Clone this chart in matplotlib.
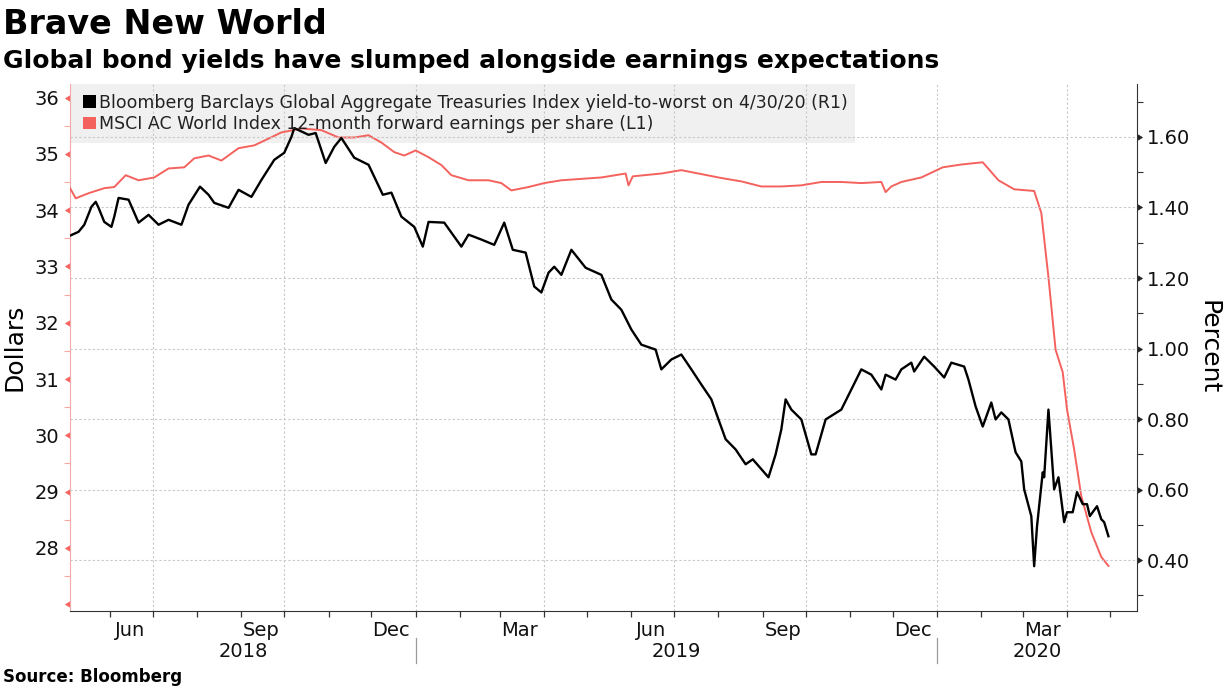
import pandas as pd
import numpy as np
import matplotlib
matplotlib.use("Agg")
import matplotlib.pyplot as plt
import matplotlib.dates as mdates
from matplotlib.ticker import MultipleLocator, FuncFormatter
from matplotlib.patches import Patch, Rectangle

plt.rcParams['font.family'] = ['DejaVu Sans']

# Bloomberg Barclays Global Aggregate Treasuries yield-to-worst (percent, right axis)
yield_dates = [
    "2018-05-04", "2018-05-10", "2018-05-14", "2018-05-19", "2018-05-22", "2018-05-24", "2018-05-28",
    "2018-06-02", "2018-06-04", "2018-06-07", "2018-06-14", "2018-06-21", "2018-06-28",
    "2018-07-05", "2018-07-12", "2018-07-21", "2018-07-26",
    "2018-08-03", "2018-08-09", "2018-08-13", "2018-08-23", "2018-08-30",
    "2018-09-08", "2018-09-15", "2018-09-24",
    "2018-10-01", "2018-10-06", "2018-10-08", "2018-10-18", "2018-10-23", "2018-10-30",
    "2018-11-05", "2018-11-10", "2018-11-19", "2018-11-29",
    "2018-12-03", "2018-12-09", "2018-12-15", "2018-12-22", "2018-12-31",
    "2019-01-06", "2019-01-10", "2019-01-21",
    "2019-02-02", "2019-02-07", "2019-02-16", "2019-02-25",
    "2019-03-04", "2019-03-10", "2019-03-19", "2019-03-25", "2019-03-30",
    "2019-04-04", "2019-04-08", "2019-04-13", "2019-04-20", "2019-04-30",
    "2019-05-11", "2019-05-18", "2019-05-25",
    "2019-06-01", "2019-06-08", "2019-06-18", "2019-06-22", "2019-06-29",
    "2019-07-06", "2019-07-13", "2019-07-20", "2019-07-27",
    "2019-08-01", "2019-08-06", "2019-08-13", "2019-08-20", "2019-08-25", "2019-08-31",
    "2019-09-05", "2019-09-10", "2019-09-14", "2019-09-17", "2019-09-21", "2019-09-28",
    "2019-10-05", "2019-10-08", "2019-10-15", "2019-10-26",
    "2019-11-02", "2019-11-09", "2019-11-16", "2019-11-23", "2019-11-26",
    "2019-12-03", "2019-12-07", "2019-12-14", "2019-12-16", "2019-12-23", "2019-12-30",
    "2020-01-06", "2020-01-11", "2020-01-20", "2020-01-23", "2020-01-28",
    "2020-02-02", "2020-02-08", "2020-02-11", "2020-02-15", "2020-02-20", "2020-02-25", "2020-02-29",
    "2020-03-02", "2020-03-07", "2020-03-09", "2020-03-11", "2020-03-15", "2020-03-16",
    "2020-03-19", "2020-03-23", "2020-03-26", "2020-03-30",
    "2020-04-01", "2020-04-05", "2020-04-08", "2020-04-12", "2020-04-15", "2020-04-17",
    "2020-04-22", "2020-04-25", "2020-04-27", "2020-04-30",
]
yield_values = [
    1.320, 1.331, 1.351, 1.402, 1.416, 1.399, 1.359,
    1.345, 1.374, 1.427, 1.422, 1.357, 1.379,
    1.351, 1.365, 1.351, 1.408,
    1.459, 1.436, 1.413, 1.399, 1.450,
    1.430, 1.478, 1.535,
    1.555, 1.600, 1.625, 1.606, 1.611, 1.526,
    1.572, 1.597, 1.541, 1.521,
    1.487, 1.436, 1.442, 1.374, 1.345,
    1.289, 1.359, 1.357,
    1.289, 1.323, 1.309, 1.294,
    1.357, 1.280, 1.272, 1.176, 1.159,
    1.215, 1.232, 1.209, 1.280, 1.229,
    1.209, 1.139, 1.110,
    1.054, 1.011, 0.997, 0.941, 0.969,
    0.983, 0.941, 0.898, 0.856,
    0.799, 0.743, 0.714, 0.672, 0.686, 0.658,
    0.635, 0.700, 0.771, 0.856, 0.827, 0.799,
    0.700, 0.700, 0.799, 0.827,
    0.884, 0.941, 0.926, 0.884, 0.926,
    0.912, 0.941, 0.960, 0.935, 0.977, 0.949,
    0.918, 0.960, 0.949, 0.912, 0.836,
    0.779, 0.847, 0.799, 0.819, 0.799, 0.706, 0.680,
    0.601, 0.525, 0.383, 0.496, 0.649, 0.635,
    0.827, 0.601, 0.635, 0.508,
    0.536, 0.536, 0.593, 0.559, 0.559, 0.525,
    0.553, 0.516, 0.508, 0.468,
]

# MSCI AC World 12-month forward EPS (dollars, left axis)
eps_dates = [
    "2018-05-04", "2018-05-08", "2018-05-17", "2018-05-28", "2018-06-04", "2018-06-12", "2018-06-21",
    "2018-07-02", "2018-07-12", "2018-07-23", "2018-07-30", "2018-08-09", "2018-08-18", "2018-08-30",
    "2018-09-10", "2018-09-20", "2018-09-29", "2018-10-13", "2018-10-27", "2018-11-08", "2018-11-19",
    "2018-11-29", "2018-12-08", "2018-12-17", "2018-12-24",
    "2019-01-01", "2019-01-10", "2019-01-19", "2019-01-26", "2019-02-07", "2019-02-21",
    "2019-03-02", "2019-03-09", "2019-03-21", "2019-04-01", "2019-04-13",
    "2019-05-11", "2019-05-28", "2019-05-30", "2019-06-02", "2019-06-22",
    "2019-07-06", "2019-07-20", "2019-08-03", "2019-08-17", "2019-08-31",
    "2019-09-14", "2019-09-28", "2019-10-12", "2019-10-26",
    "2019-11-09", "2019-11-23", "2019-11-26", "2019-11-30", "2019-12-07", "2019-12-21",
    "2020-01-05", "2020-01-18", "2020-02-02", "2020-02-13", "2020-02-24",
    "2020-03-09", "2020-03-14", "2020-03-19", "2020-03-24", "2020-03-29",
    "2020-04-01", "2020-04-06", "2020-04-11", "2020-04-18", "2020-04-25", "2020-04-30",
]
eps_values = [
    34.39, 34.21, 34.30, 34.39, 34.41, 34.62, 34.53,
    34.58, 34.74, 34.76, 34.92, 34.97, 34.88, 35.10,
    35.15, 35.27, 35.38, 35.45, 35.42, 35.29, 35.29,
    35.33, 35.20, 35.03, 34.97,
    35.06, 34.94, 34.80, 34.62, 34.53, 34.53,
    34.48, 34.35, 34.41, 34.48, 34.53,
    34.58, 34.65, 34.44, 34.60, 34.65,
    34.71, 34.64, 34.57, 34.51, 34.42,
    34.42, 34.44, 34.50, 34.50,
    34.48, 34.50, 34.32, 34.42, 34.50, 34.58,
    34.76, 34.81, 34.85, 34.53, 34.37,
    34.34, 33.95, 32.81, 31.52, 31.12,
    30.46, 29.75, 28.92, 28.28, 27.84, 27.68,
]

yield_label = "Bloomberg Barclays Global Aggregate Treasuries Index yield-to-worst on 4/30/20 (R1)"
eps_label = "MSCI AC World Index 12-month forward earnings per share (L1)"
year_labels = ["2018", "2019", "2020"]

RED = "#f4625e"
GRID = "#c8c8c8"

yield_df = pd.DataFrame({"date": pd.to_datetime(yield_dates), "value": yield_values})
eps_df = pd.DataFrame({"date": pd.to_datetime(eps_dates), "value": eps_values})

x_start = pd.Timestamp("2018-05-04")
x_end = pd.Timestamp("2020-05-20")

fig = plt.figure(figsize=(12.25, 6.89), dpi=100)
ax = fig.add_axes([70 / 1225, 1 - 611 / 689, 1067 / 1225, 527 / 689])
ax2 = ax.twinx()

# Lines
ax.plot(eps_df["date"], eps_df["value"], color=RED, linewidth=1.4, zorder=3)
ax2.plot(yield_df["date"], yield_df["value"], color="black", linewidth=1.7, zorder=3)

ax.set_xlim(x_start, x_end)
ax.set_ylim(26.88, 36.24)
ax2.set_ylim(0.256, 1.75)

# Legend background box (sits behind lines)
ax.add_patch(Rectangle((0, 0.888), 0.7357, 0.112, transform=ax.transAxes,
                       facecolor="#f0f0f0", edgecolor="none", zorder=0.5))

# Spines
for s in ["top", "right"]:
    ax.spines[s].set_visible(False)
for s in ["top", "left", "bottom"]:
    ax2.spines[s].set_visible(False)
ax.spines["left"].set_color("#f6a8a6")
ax.spines["bottom"].set_color("#333333")
ax2.spines["right"].set_color("#333333")

# Left axis ticks (dollars)
ax.yaxis.set_major_locator(MultipleLocator(1))
ax.yaxis.set_minor_locator(MultipleLocator(0.5))
ax.yaxis.set_major_formatter(FuncFormatter(lambda v, p: "" if v < 27.5 else f"{v:.0f}"))
ax.tick_params(axis="y", which="major", length=5, width=0.5, color=RED, pad=3,
               labelsize=14, labelcolor="#111111")
ax.tick_params(axis="y", which="minor", length=4, width=0.8, color="#f6a8a6")
for t in ax.yaxis.get_major_ticks():
    t.tick1line.set_marker(8)

# Right axis ticks (percent)
ax2.yaxis.set_major_locator(MultipleLocator(0.2))
ax2.yaxis.set_minor_locator(MultipleLocator(0.1))
ax2.yaxis.set_major_formatter(FuncFormatter(lambda v, p: f"{v:.2f}"))
ax2.tick_params(axis="y", which="major", length=5, width=0.5, color="#222222", pad=2,
                labelsize=14, labelcolor="#111111")
ax2.tick_params(axis="y", which="minor", length=4, width=0.8, color="#333333")
for t in ax2.yaxis.get_major_ticks():
    t.tick2line.set_marker(9)
ax2.yaxis.grid(True, which="major", color=GRID, linestyle=(0, (2, 2)), linewidth=0.8)

# X axis: month ticks, quarter labels at mid-month, gridlines at quarter starts
ax.xaxis.set_minor_locator(mdates.MonthLocator())
ax.xaxis.set_major_locator(mdates.MonthLocator(bymonth=[3, 6, 9, 12], bymonthday=15))
ax.xaxis.set_major_formatter(mdates.DateFormatter("%b"))
ax.tick_params(axis="x", which="major", length=0, pad=7, labelsize=14, labelcolor="#111111")
ax.tick_params(axis="x", which="minor", length=4, width=0.9, color="#333333")

for q in pd.date_range(x_start, x_end, freq="QS"):
    ax.axvline(q, color=GRID, linestyle=(0, (2, 2)), linewidth=0.8, zorder=1)

# Year labels and separators
year_bounds = [x_start, pd.Timestamp("2019-01-01"), pd.Timestamp("2020-01-01"), x_end]
for i, lab in enumerate(year_labels):
    mid = year_bounds[i] + (year_bounds[i + 1] - year_bounds[i]) / 2
    ax.text(mid, -0.076, lab, transform=ax.get_xaxis_transform(), ha="center", va="center",
            fontsize=14, color="#111111")
for b in year_bounds[1:3]:
    ax.axvline(b, ymin=-0.099, ymax=-0.051, color="#9a9a9a", linewidth=0.9, clip_on=False)

# Legend
handles = [Patch(facecolor="black", edgecolor="none"), Patch(facecolor=RED, edgecolor="none")]
leg = ax2.legend(handles, [yield_label, eps_label], loc="upper left", bbox_to_anchor=(0.011, 0.985),
                 frameon=False, fontsize=12.5, handlelength=0.7, handleheight=0.7,
                 handletextpad=0.2, labelspacing=0.18, borderaxespad=0, borderpad=0.1)
for txt in leg.get_texts():
    txt.set_color("#222222")

# Axis titles
fig.text(15 / 1225, 1 - 347 / 689, "Dollars", rotation=90, ha="center", va="center", fontsize=18)
fig.text(1208 / 1225, 1 - 347 / 689, "Percent", rotation=270, ha="center", va="center", fontsize=18)

# Titles and source
fig.text(3 / 1225, 1 - 8 / 689, "Brave New World", ha="left", va="top", fontsize=24, fontweight="bold")
fig.text(3 / 1225, 1 - 49 / 689, "Global bond yields have slumped alongside earnings expectations",
         ha="left", va="top", fontsize=18, fontweight="bold")
fig.text(3 / 1225, 1 - 677 / 689, "Source: Bloomberg", ha="left", va="center", fontsize=12, fontweight="bold")

fig.savefig("out.png", dpi=100)
